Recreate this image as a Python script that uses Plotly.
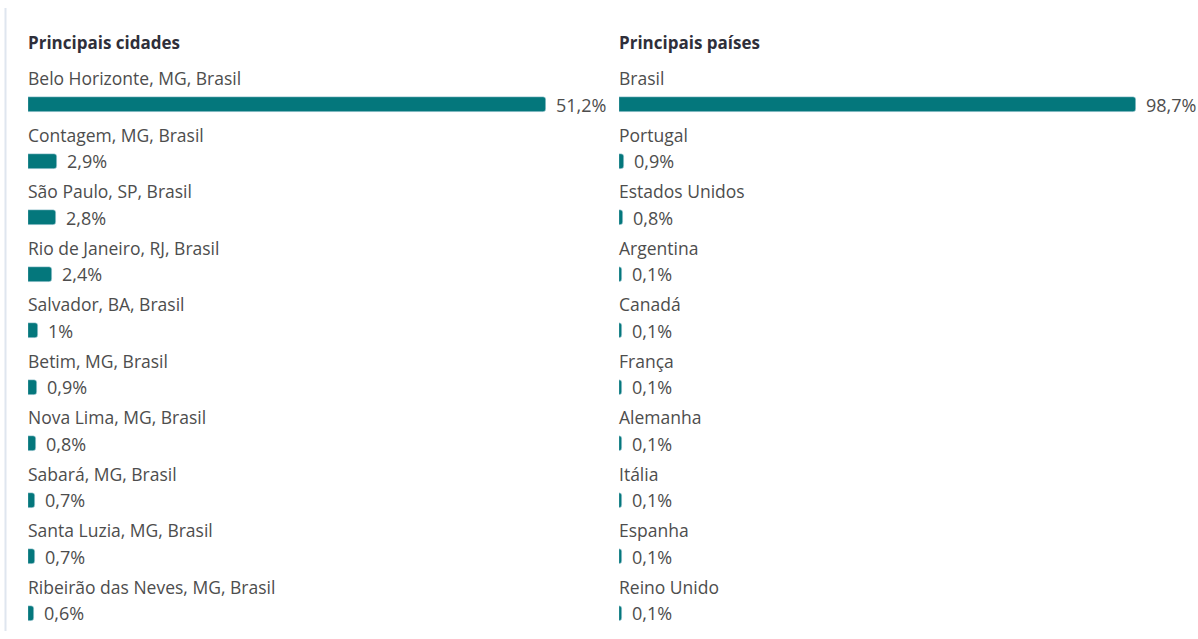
import numpy as np
import plotly.graph_objects as go

# dados
cidades = [
    "Belo Horizonte, MG, Brasil", "Contagem, MG, Brasil", "São Paulo, SP, Brasil",
    "Rio de Janeiro, RJ, Brasil", "Salvador, BA, Brasil", "Betim, MG, Brasil",
    "Nova Lima, MG, Brasil", "Sabará, MG, Brasil", "Santa Luzia, MG, Brasil",
    "Ribeirão das Neves, MG, Brasil",
]
cidades_pct = [51.2, 2.9, 2.8, 2.4, 1.0, 0.9, 0.8, 0.7, 0.7, 0.6]

paises = [
    "Brasil", "Portugal", "Estados Unidos", "Argentina", "Canadá",
    "França", "Alemanha", "Itália", "Espanha", "Reino Unido",
]
paises_pct = [98.7, 0.9, 0.8, 0.1, 0.1, 0.1, 0.1, 0.1, 0.1, 0.1]

TEAL = "#04777c"
GRAY = "#4d4d4d"
FONT = "Open Sans"

W, H = 1198, 639
ROW_PX = 56.5      # distance between rows
FIRST_BAR = 104.5  # pixel centre of the first bar
BAR_PX = 15


def fmt(v):
    s = f"{v:.1f}".rstrip("0").rstrip(".")
    return s.replace(".", ",") + "%"


fig = go.Figure()

panels = [
    ("Principais cidades", cidades, cidades_pct, "x"),
    ("Principais países", paises, paises_pct, "x2"),
]

rows = np.arange(len(cidades))
for title, labels, vals, xref in panels:
    vals = np.asarray(vals)
    shown = np.maximum(vals, vals.max() * 0.006)  # tiny bars still visible
    fig.add_trace(go.Bar(
        x=shown, y=rows, orientation="h",
        marker=dict(color=TEAL, cornerradius=3),
        width=BAR_PX / ROW_PX,
        xaxis=xref, yaxis="y",
        hoverinfo="skip", showlegend=False,
    ))
    # titulo do painel
    fig.add_annotation(
        text=f"<b>{title}</b>", xref=xref, yref="y", x=0, y=0,
        xanchor="left", yanchor="middle", yshift=62.5, xshift=-2, showarrow=False,
        font=dict(family=FONT, size=17, color="#2f2f3a"),
    )
    for i, (lab, v, s) in enumerate(zip(labels, vals, shown)):
        fig.add_annotation(
            text=lab, xref=xref, yref="y", x=0, y=i,
            xanchor="left", yanchor="middle", yshift=26.5, xshift=-2, showarrow=False,
            font=dict(family=FONT, size=17.5, color=GRAY),
        )
        fig.add_annotation(
            text=fmt(v), xref=xref, yref="y", x=s, y=i,
            xanchor="left", yanchor="middle", xshift=8, showarrow=False,
            font=dict(family=FONT, size=18, color=GRAY),
        )

top = -FIRST_BAR / ROW_PX
bottom = top + H / ROW_PX

fig.update_layout(
    width=W, height=H,
    margin=dict(l=0, r=0, t=0, b=0),
    paper_bgcolor="white", plot_bgcolor="white",
    xaxis=dict(domain=[28 / W, 546 / W], range=[0, max(cidades_pct)], visible=False, fixedrange=True),
    xaxis2=dict(domain=[619 / W, 1136 / W], range=[0, max(paises_pct)], visible=False,
                anchor="y", fixedrange=True),
    yaxis=dict(range=[bottom, top], visible=False, fixedrange=True),
    bargap=0,
    shapes=[dict(type="line", xref="paper", yref="paper",
                 x0=5.5 / W, x1=5.5 / W, y0=1 - 8 / H, y1=1 - 631 / H,
                 line=dict(color="#dfe6ef", width=2))],
)

fig.write_html("out.html", config={"displayModeBar": False},
               post_script="document.body.style.margin='0';document.body.style.overflow='hidden';")
